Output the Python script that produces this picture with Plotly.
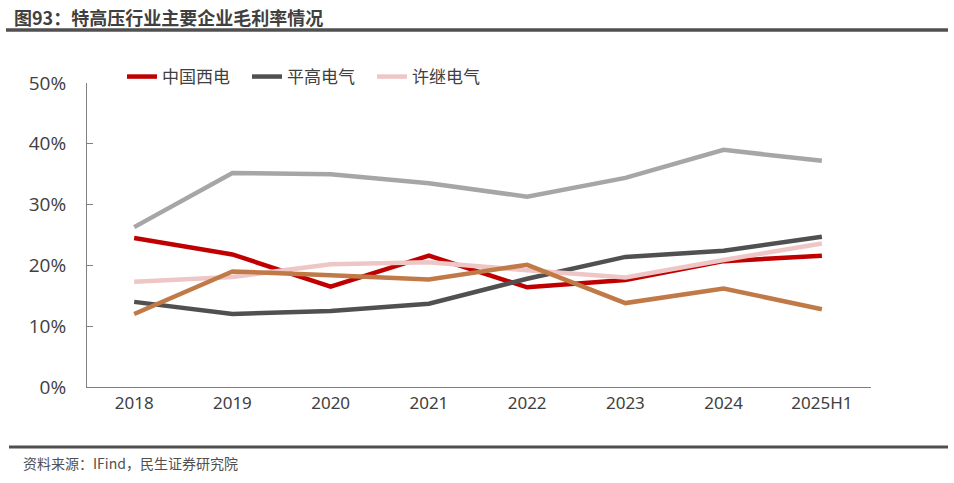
import plotly.graph_objects as go

categories = ["2018", "2019", "2020", "2021", "2022", "2023", "2024", "2025H1"]
xidian = [0.245, 0.218, 0.165, 0.216, 0.164, 0.176, 0.207, 0.216]
pinggao = [0.140, 0.120, 0.125, 0.137, 0.178, 0.214, 0.224, 0.247]
xuji = [0.173, 0.181, 0.202, 0.205, 0.192, 0.180, 0.209, 0.236]
gray_series = [0.263, 0.352, 0.350, 0.335, 0.313, 0.344, 0.390, 0.372]
brown_series = [0.120, 0.190, 0.184, 0.177, 0.201, 0.138, 0.162, 0.128]
yticks = [0, 0.1, 0.2, 0.3, 0.4, 0.5]
ytick_labels = ["0%", "10%", "20%", "30%", "40%", "50%"]

FONT = "Noto Sans CJK SC"

fig = go.Figure()
series = [
    ("中国西电", xidian, "#C00000", True),
    ("平高电气", pinggao, "#505050", True),
    ("许继电气", xuji, "#EEC6C6", True),
    ("思源电气", gray_series, "#A6A6A6", False),
    ("特变电工", brown_series, "#C07A48", False),
]
for name, vals, color, show in series:
    fig.add_trace(go.Scatter(x=categories, y=vals, name=name, mode="lines",
                             line=dict(color=color, width=4.5), showlegend=show))

fig.update_layout(
    width=954, height=483,
    margin=dict(l=87, r=83, t=83, b=96),
    paper_bgcolor="white", plot_bgcolor="white",
    font=dict(family=FONT, color="#404040"),
    showlegend=True,
    legend=dict(orientation="h", x=(122 - 87) / 784, y=(387 - 77) / 304,
                xanchor="left", yanchor="middle",
                font=dict(size=17, color="#404040", family=FONT),
                itemwidth=30, entrywidth=80, entrywidthmode="pixels",
                bgcolor="rgba(0,0,0,0)"),
    xaxis=dict(type="category", showline=True, linecolor="#808080", linewidth=1.2,
               ticks="", showgrid=False,
               tickfont=dict(size=17, color="#404040", family="Noto Sans"),
               range=[-0.48, 7.5]),
    yaxis=dict(range=[0, 0.5], tickvals=yticks, ticktext=ytick_labels,
               showline=True, linecolor="#808080", linewidth=1.2,
               ticks="inside", ticklen=6, tickcolor="#808080", tickwidth=1.2,
               showgrid=False, zeroline=False, ticklabelstandoff=16,
               tickfont=dict(size=19, color="#404040", family="Open Sans")),
)

fig.add_annotation(xref="paper", yref="paper", x=(12 - 87) / 784, y=(387 - 17) / 304,
                   xanchor="left", yanchor="middle", showarrow=False,
                   text="<b>图93：特高压行业主要企业毛利率情况</b>",
                   font=dict(size=18, color="#404040", family=FONT))
fig.add_shape(type="line", xref="paper", yref="paper",
              x0=(6 - 87) / 784, x1=(948 - 87) / 784,
              y0=(387 - 30) / 304, y1=(387 - 30) / 304,
              line=dict(color="#505050", width=3.5))
fig.add_shape(type="line", xref="paper", yref="paper",
              x0=(9 - 87) / 784, x1=(948 - 87) / 784,
              y0=(387 - 447) / 304, y1=(387 - 447) / 304,
              line=dict(color="#505050", width=3))
fig.add_annotation(xref="paper", yref="paper", x=(21 - 87) / 784, y=(387 - 463) / 304,
                   xanchor="left", yanchor="middle", showarrow=False,
                   text="资料来源：IFind，民生证券研究院",
                   font=dict(size=14, color="#505050", family=FONT))

fig.write_html("out.html", config={"displayModeBar": False},
               post_script="document.body.style.margin='0';")
